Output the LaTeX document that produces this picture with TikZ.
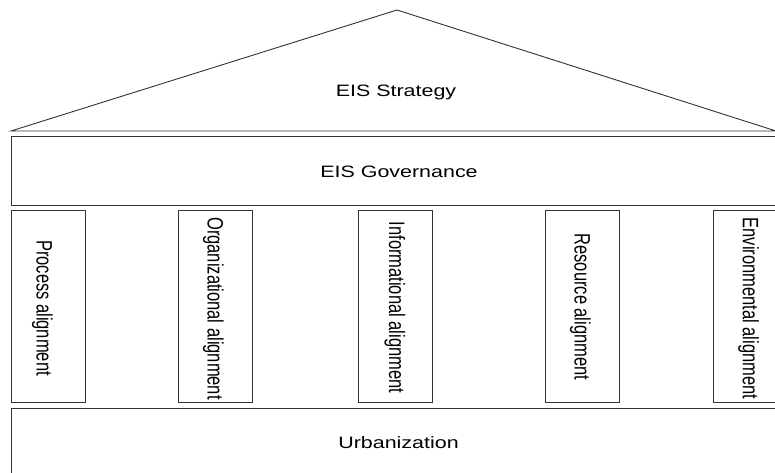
\documentclass[tikz,border=0pt]{standalone}
\usepackage{fontspec}
\setmainfont{Liberation Sans}
\usepackage{graphicx}
\newcommand{\htxt}[1]{\scalebox{1.3}[1]{#1}}
\newcommand{\vtxt}[1]{\scalebox{1.35}[1]{\rotatebox{-90}{#1}}}
\begin{document}
\begin{tikzpicture}[x=1bp,y=-1bp,
  frame/.style={draw=black!80, line width=0.9bp, inner sep=0pt, rectangle},
  pillar/.style={frame, minimum width=74bp, minimum height=192.5bp},
  lbl/.style={inner sep=0pt, font=\fontsize{16.5bp}{20bp}\selectfont}]
\useasboundingbox (0,0) rectangle (775,473);
\clip (0,0) rectangle (775,473);
% roof
\coordinate (roofL) at (11,131);
\coordinate (roofT) at (397,10);
\coordinate (roofR) at (776,131);
\draw[black!80, line width=0.9bp] (roofL) -- (roofT) -- (roofR) -- cycle;
\node[lbl, anchor=base] (strategy) at (396,96.7) {\htxt{EIS Strategy}};
% governance
\node[frame, minimum width=772bp, minimum height=68.5bp] (gov) at (397,171) {};
\node[lbl, anchor=base] (govt) at (399,178) {\htxt{EIS Governance}};
% pillars
\node[pillar] (p1) at (48,306.25) {};
\node[pillar] (p2) at (215,306.25) {};
\node[pillar] (p3) at (395,306.25) {};
\node[pillar] (p4) at (582.5,306.25) {};
\node[pillar] (p5) at (750,306.25) {};
\node[lbl] (t1) at (42.5,308) {\vtxt{Process alignment}};
\node[lbl] (t2) at (213.5,308.5) {\vtxt{Organizational alignment}};
\node[lbl] (t3) at (395,307.5) {\vtxt{Informational alignment}};
\node[lbl] (t4) at (580.5,307) {\vtxt{Resource alignment}};
\node[lbl] (t5) at (748.5,308.5) {\vtxt{Environmental alignment}};
% urbanization
\node[frame, minimum width=772bp, minimum height=80bp] (urb) at (397,448) {};
\node[lbl, anchor=base] (urbt) at (398.5,448) {\htxt{Urbanization}};
\end{tikzpicture}
\end{document}
